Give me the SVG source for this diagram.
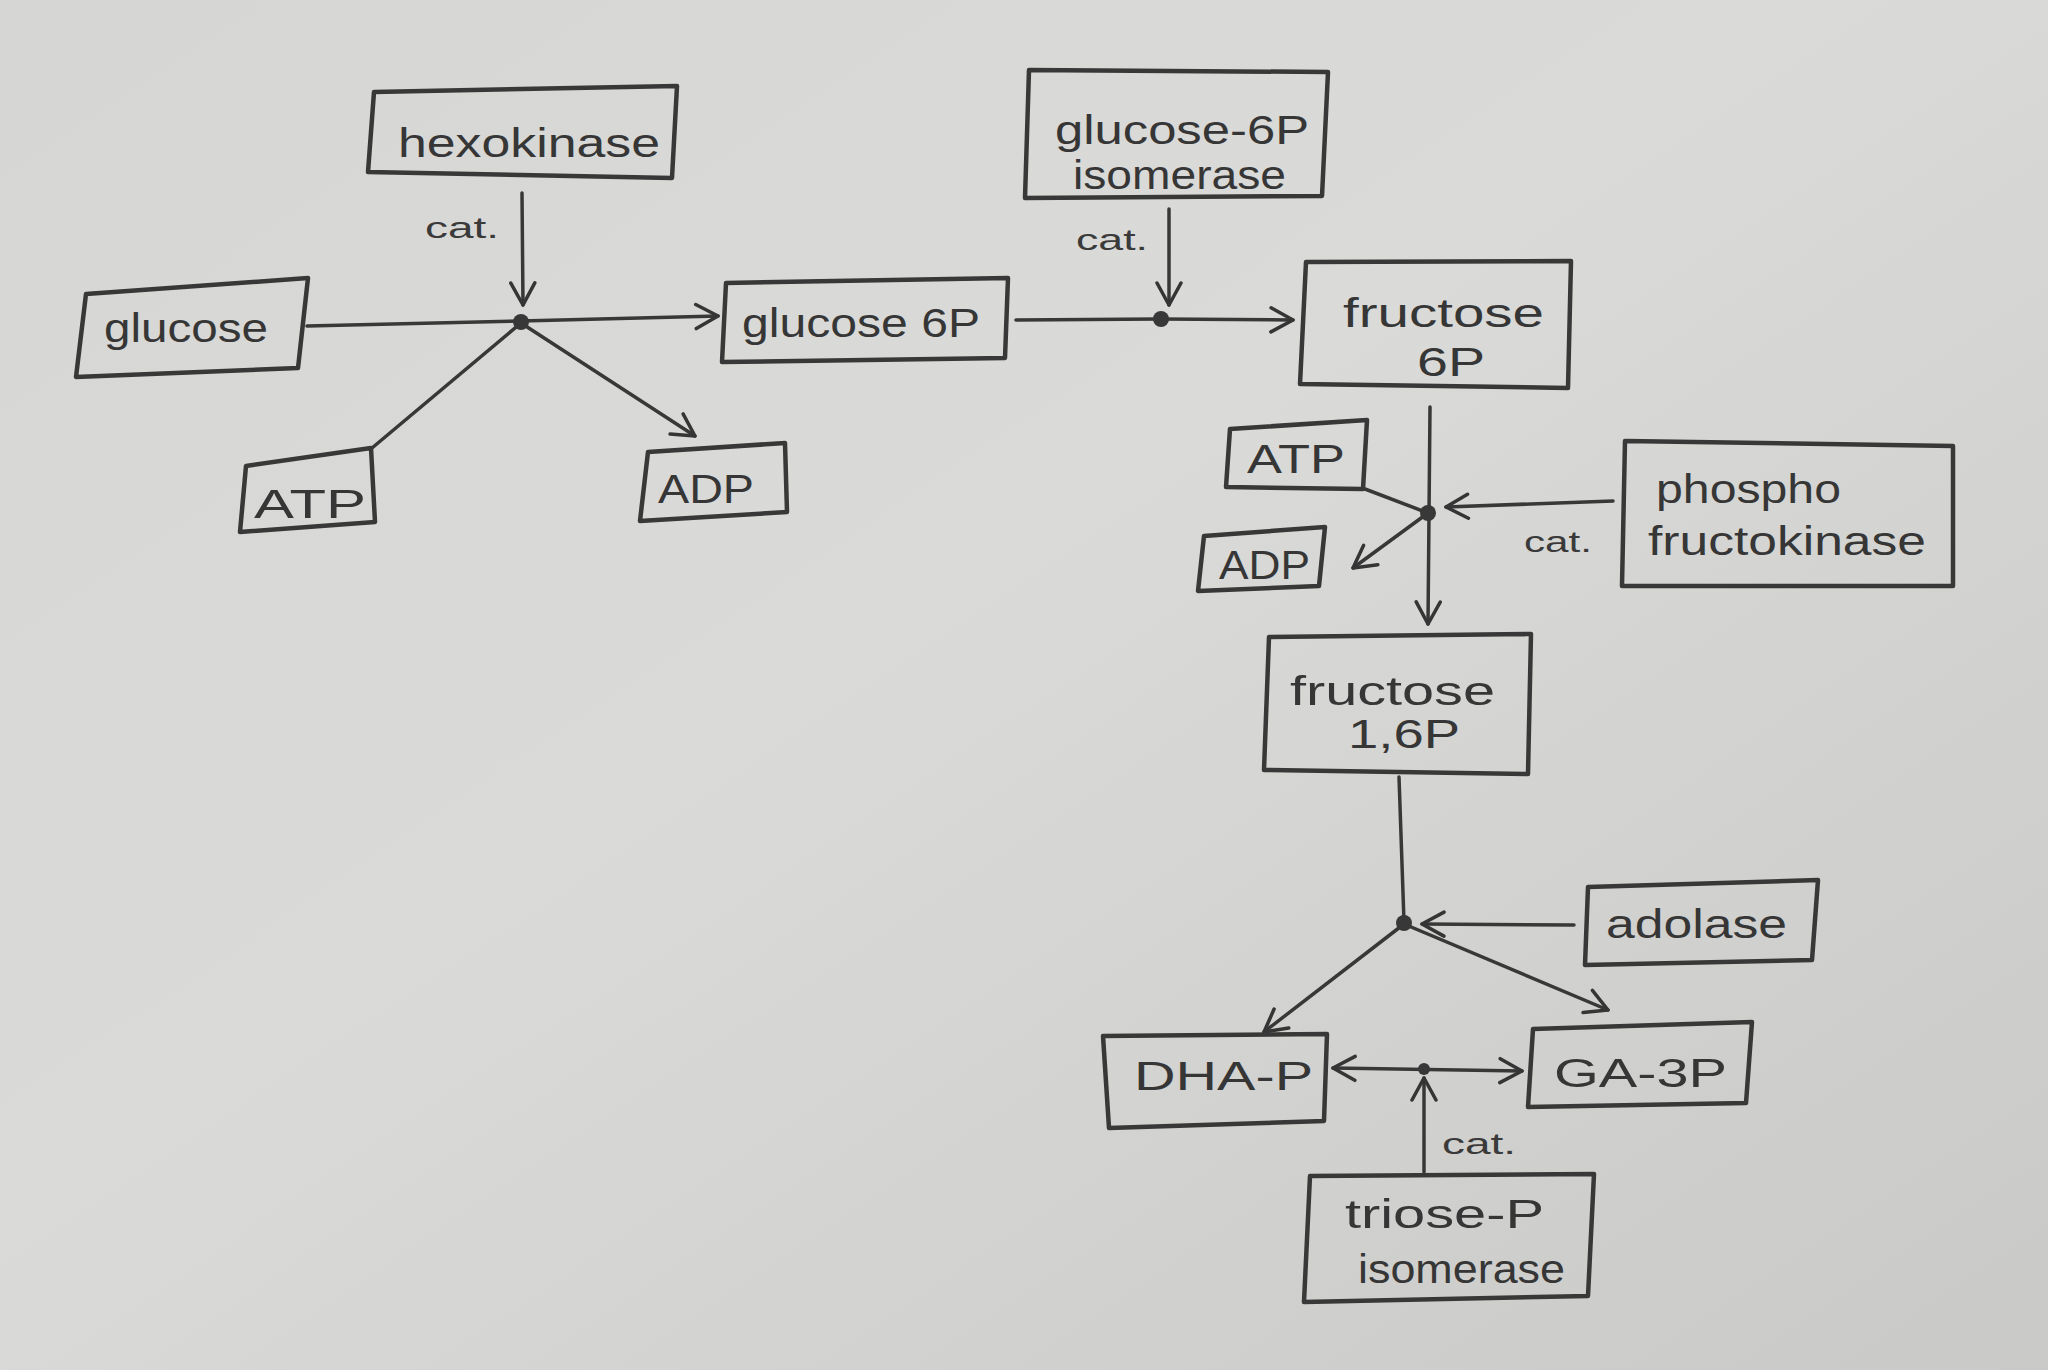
<svg xmlns="http://www.w3.org/2000/svg" width="2048" height="1370" viewBox="0 0 2048 1370">
<defs>
<linearGradient id="paper" x1="0" y1="0" x2="1" y2="1">
<stop offset="0" stop-color="#d6d6d4"/>
<stop offset="0.45" stop-color="#dadad8"/>
<stop offset="0.7" stop-color="#d2d2d0"/>
<stop offset="1" stop-color="#c9c9c7"/>
</linearGradient>
<marker id="arr" viewBox="0 0 30 30" refX="28" refY="15" markerWidth="30" markerHeight="30" markerUnits="userSpaceOnUse" orient="auto-start-reverse">
<path d="M6 3 L28 15 L6 27" fill="none" stroke="#353535" stroke-width="3.5" stroke-linecap="round" stroke-linejoin="round"/>
</marker>
<style>
.box{fill:none;stroke:#383838;stroke-width:4.5;stroke-linejoin:round}
.ln{fill:none;stroke:#383838;stroke-width:3.5;stroke-linecap:round}
.dot{fill:#383838}
.t{font-family:"Liberation Sans","DejaVu Sans",sans-serif;font-size:40px;fill:#363636}
.c{font-family:"Liberation Sans","DejaVu Sans",sans-serif;font-size:30px;fill:#3a3a3a}
</style>
</defs>
<rect width="2048" height="1370" fill="url(#paper)"/>

<g id="connectors">
<!-- hexokinase reaction -->
<path class="ln" d="M307 326 L521 321"/>
<path class="ln" d="M521 321 L718 316" marker-end="url(#arr)"/>
<path class="ln" d="M522 193 L523 305" marker-end="url(#arr)"/>
<path class="ln" d="M372 448 L521 323"/>
<path class="ln" d="M521 323 L695 436" marker-end="url(#arr)"/>
<circle class="dot" cx="521" cy="322" r="8"/>
<text class="c" x="425" y="238" textLength="74" lengthAdjust="spacingAndGlyphs">cat.</text>

<!-- glucose-6P isomerase reaction -->
<path class="ln" d="M1016 320 L1160 319"/>
<path class="ln" d="M1160 319 L1293 320" marker-end="url(#arr)"/>
<path class="ln" d="M1169 209 L1169 305" marker-end="url(#arr)"/>
<circle class="dot" cx="1161" cy="319" r="8"/>
<text class="c" x="1076" y="250" textLength="72" lengthAdjust="spacingAndGlyphs">cat.</text>

<!-- phosphofructokinase reaction -->
<path class="ln" d="M1430 407 L1428 624" marker-end="url(#arr)"/>
<path class="ln" d="M1365 489 L1428 513"/>
<path class="ln" d="M1428 513 L1353 568" marker-end="url(#arr)"/>
<path class="ln" d="M1613 501 L1446 507" marker-end="url(#arr)"/>
<circle class="dot" cx="1428" cy="513" r="8"/>
<text class="c" x="1524" y="552" textLength="68" lengthAdjust="spacingAndGlyphs">cat.</text>

<!-- aldolase reaction -->
<path class="ln" d="M1399 777 L1404 922"/>
<path class="ln" d="M1574 925 L1422 924" marker-end="url(#arr)"/>
<path class="ln" d="M1404 924 L1264 1032" marker-end="url(#arr)"/>
<path class="ln" d="M1404 924 L1608 1010" marker-end="url(#arr)"/>
<circle class="dot" cx="1404" cy="923" r="8"/>

<!-- triose-P isomerase reaction -->
<path class="ln" d="M1333 1068 L1522 1071" marker-start="url(#arr)" marker-end="url(#arr)"/>
<path class="ln" d="M1424 1172 L1424 1078" marker-end="url(#arr)"/>
<circle class="dot" cx="1424" cy="1069" r="6"/>
<text class="c" x="1442" y="1154" textLength="74" lengthAdjust="spacingAndGlyphs">cat.</text>
</g>

<g id="hexokinase">
<path class="box" d="M374 92 L677 86 L672 178 L368 172 Z"/>
<text class="t" x="398" y="157" textLength="262" lengthAdjust="spacingAndGlyphs">hexokinase</text>
</g>
<g id="glucose">
<path class="box" d="M86 294 L308 278 L298 368 L76 377 Z"/>
<text class="t" x="104" y="342" textLength="164" lengthAdjust="spacingAndGlyphs">glucose</text>
</g>
<g id="atp1">
<path class="box" d="M246 466 L371 448 L375 522 L240 532 Z"/>
<text class="t" x="254" y="518" textLength="112" lengthAdjust="spacingAndGlyphs">ATP</text>
</g>
<g id="adp1">
<path class="box" d="M648 452 L785 443 L787 512 L640 521 Z"/>
<text class="t" x="658" y="503" textLength="96" lengthAdjust="spacingAndGlyphs">ADP</text>
</g>
<g id="glucose6p">
<path class="box" d="M726 283 L1008 278 L1005 358 L722 362 Z"/>
<text class="t" x="742" y="337" textLength="238" lengthAdjust="spacingAndGlyphs">glucose 6P</text>
</g>
<g id="g6p_isomerase">
<path class="box" d="M1029 70 L1328 72 L1322 196 L1025 198 Z"/>
<text class="t" x="1055" y="144" textLength="254" lengthAdjust="spacingAndGlyphs">glucose-6P</text>
<text class="t" x="1073" y="189" textLength="213" lengthAdjust="spacingAndGlyphs">isomerase</text>
</g>
<g id="fructose6p">
<path class="box" d="M1306 262 L1571 261 L1568 388 L1300 384 Z"/>
<text class="t" x="1343" y="327" textLength="201" lengthAdjust="spacingAndGlyphs">fructose</text>
<text class="t" x="1417" y="376" textLength="68" lengthAdjust="spacingAndGlyphs">6P</text>
</g>
<g id="atp2">
<path class="box" d="M1230 429 L1367 420 L1363 489 L1226 487 Z"/>
<text class="t" x="1247" y="473" textLength="98" lengthAdjust="spacingAndGlyphs">ATP</text>
</g>
<g id="adp2">
<path class="box" d="M1204 536 L1325 527 L1319 586 L1198 591 Z"/>
<text class="t" x="1219" y="579" textLength="91" lengthAdjust="spacingAndGlyphs">ADP</text>
</g>
<g id="phosphofructokinase">
<path class="box" d="M1625 441 L1953 446 L1953 586 L1622 586 Z"/>
<text class="t" x="1656" y="503" textLength="185" lengthAdjust="spacingAndGlyphs">phospho</text>
<text class="t" x="1648" y="555" textLength="278" lengthAdjust="spacingAndGlyphs">fructokinase</text>
</g>
<g id="fructose16p">
<path class="box" d="M1269 637 L1531 634 L1528 774 L1264 770 Z"/>
<text class="t" x="1290" y="705" textLength="205" lengthAdjust="spacingAndGlyphs">fructose</text>
<text class="t" x="1348" y="748" textLength="112" lengthAdjust="spacingAndGlyphs">1,6P</text>
</g>
<g id="adolase">
<path class="box" d="M1588 887 L1818 880 L1812 960 L1585 965 Z"/>
<text class="t" x="1606" y="938" textLength="181" lengthAdjust="spacingAndGlyphs">adolase</text>
</g>
<g id="dhap">
<path class="box" d="M1103 1036 L1327 1034 L1324 1121 L1109 1128 Z"/>
<text class="t" x="1134" y="1090" textLength="179" lengthAdjust="spacingAndGlyphs">DHA-P</text>
</g>
<g id="ga3p">
<path class="box" d="M1533 1029 L1752 1022 L1746 1103 L1528 1107 Z"/>
<text class="t" x="1554" y="1087" textLength="173" lengthAdjust="spacingAndGlyphs">GA-3P</text>
</g>
<g id="triose_isomerase">
<path class="box" d="M1310 1176 L1594 1174 L1588 1296 L1304 1302 Z"/>
<text class="t" x="1345" y="1228" textLength="199" lengthAdjust="spacingAndGlyphs">triose-P</text>
<text class="t" x="1358" y="1283" textLength="207" lengthAdjust="spacingAndGlyphs">isomerase</text>
</g>
</svg>
